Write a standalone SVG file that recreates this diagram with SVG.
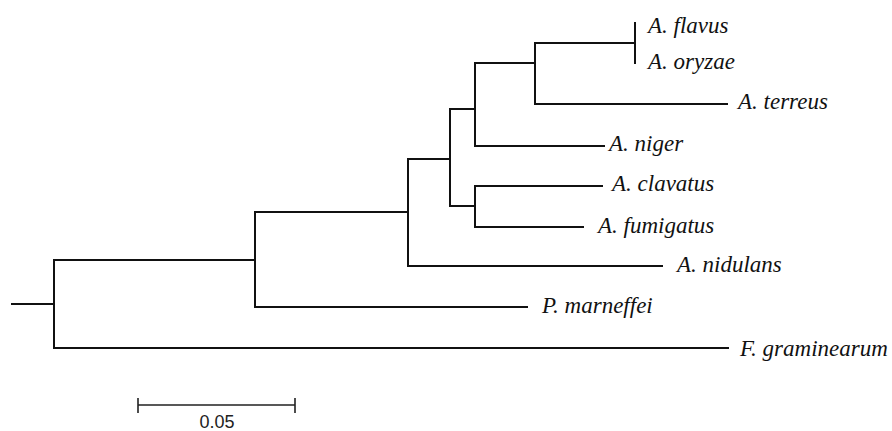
<svg xmlns="http://www.w3.org/2000/svg" width="892" height="431" viewBox="0 0 892 431">
  <style>
    .br { fill: none; stroke: #111; stroke-width: 2; stroke-linecap: square; }
    .sc { fill: none; stroke: #222; stroke-width: 1.6; }
    .tx { font-family: "Liberation Serif", "Times New Roman", serif; font-style: italic; font-size: 23px; fill: #111; }
    .num { font-family: "Liberation Sans", Arial, sans-serif; font-size: 18px; fill: #222; text-anchor: middle; }
  </style>
  <rect width="892" height="431" fill="#fff"/>

  <!-- tree branches -->
  <g id="connectors">
    <path class="br" d="M12,304 H54"/>
    <path class="br" d="M54,260 V348"/>
    <path class="br" d="M54,348 H728"/>
    <path class="br" d="M54,260 H255"/>
    <path class="br" d="M255,212 V307"/>
    <path class="br" d="M255,307 H527"/>
    <path class="br" d="M255,212 H408"/>
    <path class="br" d="M408,159 V266"/>
    <path class="br" d="M408,266 H662"/>
    <path class="br" d="M408,159 H450"/>
    <path class="br" d="M450,109 V206"/>
    <path class="br" d="M450,109 H475"/>
    <path class="br" d="M475,63 V146"/>
    <path class="br" d="M475,146 H604"/>
    <path class="br" d="M475,63 H535"/>
    <path class="br" d="M535,43 V104"/>
    <path class="br" d="M535,104 H727"/>
    <path class="br" d="M535,43 H635"/>
    <path class="br" d="M635,23 V63"/>
    <path class="br" d="M450,206 H475"/>
    <path class="br" d="M475,186 V227"/>
    <path class="br" d="M475,186 H602"/>
    <path class="br" d="M475,227 H583"/>
  </g>

  <!-- taxa -->
  <g id="flavus"><text class="tx" x="648" y="33">A. flavus</text></g>
  <g id="oryzae"><text class="tx" x="648" y="69">A. oryzae</text></g>
  <g id="terreus"><text class="tx" x="738" y="109">A. terreus</text></g>
  <g id="niger"><text class="tx" x="609" y="151">A. niger</text></g>
  <g id="clavatus"><text class="tx" x="612" y="191">A. clavatus</text></g>
  <g id="fumigatus"><text class="tx" x="598" y="233">A. fumigatus</text></g>
  <g id="nidulans"><text class="tx" x="677" y="272">A. nidulans</text></g>
  <g id="marneffei"><text class="tx" x="542" y="313">P. marneffei</text></g>
  <g id="graminearum"><text class="tx" x="740" y="356">F. graminearum</text></g>

  <!-- scale bar -->
  <g id="scale">
    <path class="sc" d="M138,405 H295 M138,398 V413 M295,398 V413"/>
    <text class="num" x="217" y="428">0.05</text>
  </g>
</svg>
